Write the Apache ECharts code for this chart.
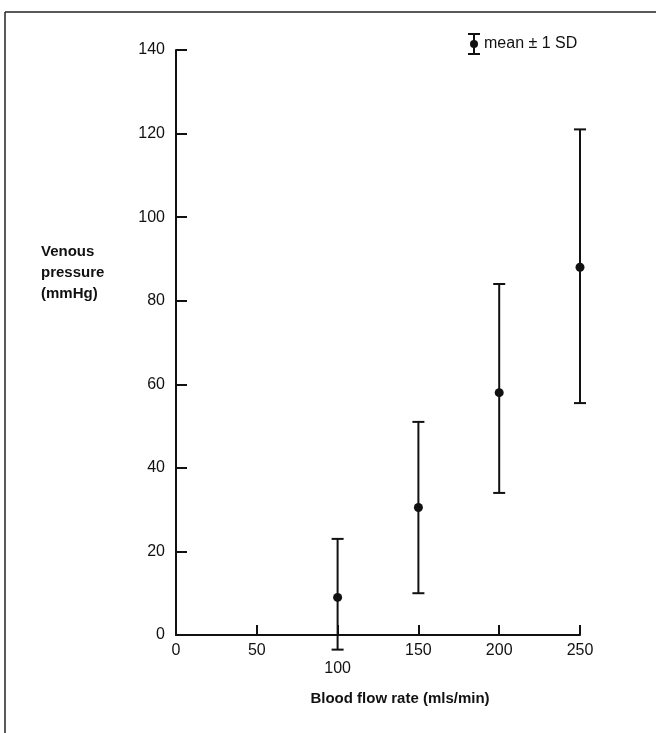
<!DOCTYPE html>
<html>
<head>
<meta charset="utf-8">
<script src="https://cdn.jsdelivr.net/npm/echarts@6/dist/echarts.min.js"></script>
<style>
  html, body { margin: 0; padding: 0; background: #fff; }
  #chart { width: 656px; height: 733px; }
</style>
</head>
<body>
<div id="chart"></div>
<script>
// 数据 - 血流速度与静脉压
const flowRates = [100, 150, 200, 250];
const meanPressure = [9, 30.5, 58, 88];
const upperSD = [23, 51, 84, 121];
const lowerSD = [-3.5, 10, 34, 55.5];
const xTicks = [0, 50, 100, 150, 200, 250];
const yTicks = [0, 20, 40, 60, 80, 100, 120, 140];

const FONT = '"Liberation Sans", Arial, sans-serif';
const INK = '#111';

const chartDom = document.getElementById('chart');
const myChart = echarts.init(chartDom);

// 误差线数据
const barData = flowRates.map((x, i) => [x, lowerSD[i], upperSD[i]]);
const meanData = flowRates.map((x, i) => [x, meanPressure[i]]);

function renderErrorBar(params, api) {
  const x = api.value(0);
  const lo = api.coord([x, api.value(1)]);
  const hi = api.coord([x, api.value(2)]);
  const cap = 6;
  const style = { stroke: INK, lineWidth: 2 };
  return {
    type: 'group',
    children: [
      { type: 'line', shape: { x1: lo[0], y1: lo[1], x2: hi[0], y2: hi[1] }, style: style },
      { type: 'line', shape: { x1: hi[0] - cap, y1: hi[1], x2: hi[0] + cap, y2: hi[1] }, style: style },
      { type: 'line', shape: { x1: lo[0] - cap, y1: lo[1], x2: lo[0] + cap, y2: lo[1] }, style: style }
    ]
  };
}

const option = {
  backgroundColor: '#fff',
  animation: false,
  grid: {
    left: 176,
    right: 76,
    top: 50,
    bottom: 98
  },
  xAxis: {
    type: 'value',
    min: xTicks[0],
    max: xTicks[xTicks.length - 1],
    interval: 50,
    splitLine: { show: false },
    axisLine: { show: true, lineStyle: { color: INK, width: 2 } },
    axisTick: { show: true, inside: true, length: 10, lineStyle: { color: INK, width: 2 } },
    axisLabel: {
      color: INK,
      fontFamily: FONT,
      fontSize: 16,
      margin: 8,
      formatter: (val) => val === 100 ? '{low|' + val + '}' : String(val),
      rich: {
        low: { fontFamily: FONT, fontSize: 16, color: INK, padding: [18, 0, 0, 0] }
      }
    },
    name: 'Blood flow rate (mls/min)',
    nameLocation: 'middle',
    nameGap: 56,
    nameTextStyle: { color: INK, fontFamily: FONT, fontSize: 15, fontWeight: 'bold', padding: [0, 0, 0, 44] }
  },
  yAxis: {
    type: 'value',
    min: yTicks[0],
    max: yTicks[yTicks.length - 1],
    interval: 20,
    splitLine: { show: false },
    axisLine: { show: true, lineStyle: { color: INK, width: 2 } },
    axisTick: { show: true, inside: true, length: 11, lineStyle: { color: INK, width: 2 } },
    axisLabel: { color: INK, fontFamily: FONT, fontSize: 16, margin: 11 }
  },
  graphic: [
    // 边框（上、左）
    { type: 'line', shape: { x1: 5, y1: 12, x2: 656, y2: 12 }, style: { stroke: '#222', lineWidth: 1.5 } },
    { type: 'line', shape: { x1: 5, y1: 12, x2: 5, y2: 733 }, style: { stroke: '#222', lineWidth: 1.5 } },
    // 纵轴标题
    {
      type: 'text', left: 41, top: 241,
      style: { text: 'Venous\npressure\n(mmHg)', fill: INK, font: 'bold 15px ' + FONT, lineHeight: 21 }
    },
    // 图例
    { type: 'line', shape: { x1: 474, y1: 34, x2: 474, y2: 54 }, style: { stroke: INK, lineWidth: 2 } },
    { type: 'line', shape: { x1: 468, y1: 34, x2: 480, y2: 34 }, style: { stroke: INK, lineWidth: 2 } },
    { type: 'line', shape: { x1: 468, y1: 54, x2: 480, y2: 54 }, style: { stroke: INK, lineWidth: 2 } },
    { type: 'circle', shape: { cx: 474, cy: 44, r: 4 }, style: { fill: INK } },
    {
      type: 'text', left: 484, top: 36,
      style: { text: 'mean \u00b1 1 SD', fill: INK, font: '16px ' + FONT }
    }
  ],
  series: [
    {
      name: 'SD',
      type: 'custom',
      renderItem: renderErrorBar,
      data: barData,
      clip: false,
      encode: { x: 0, y: [1, 2] },
      z: 3
    },
    {
      name: 'mean',
      type: 'scatter',
      data: meanData,
      symbol: 'circle',
      symbolSize: 9,
      itemStyle: { color: INK, opacity: 1 },
      z: 4
    }
  ]
};

myChart.setOption(option);
</script>
</body>
</html>
